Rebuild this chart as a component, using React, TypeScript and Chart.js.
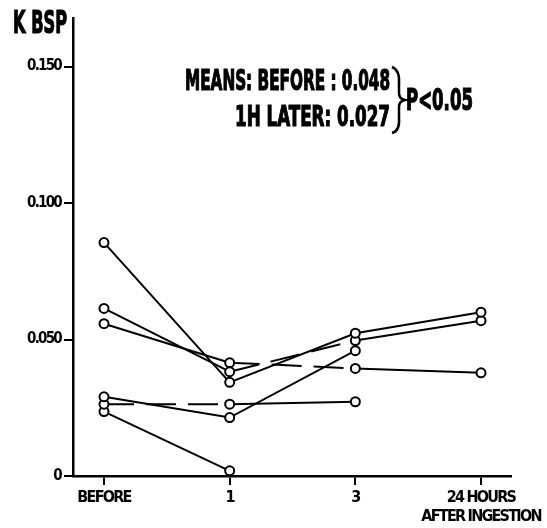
import { useEffect, useRef } from 'react';
import { Chart, registerables } from 'chart.js';

Chart.register(...registerables);

// ---- data ----
const X_POS = [0, 1, 2, 3];
const X_LABELS: string[][] = [['BEFORE'], ['1'], ['3'], ['24 HOURS', 'AFTER INGESTION']];
const Y_TICKS = [0, 0.05, 0.1, 0.15];
const Y_LABELS = ['0', '0.050', '0.100', '0.150'];

const SUBJECT_1 = [0.0855, 0.0343, 0.0523, 0.06];
const SUBJECT_2 = [0.0614, 0.0382, 0.0496, 0.0569];
const SUBJECT_3 = [0.0558, 0.0415, 0.0394, 0.0378];
const SUBJECT_4 = [0.029, 0.0214, 0.0459];
const SUBJECT_5 = [0.0263, 0.0263, 0.0272];
const SUBJECT_6 = [0.0236, 0.0019];

const Y_TITLE = 'K BSP';
const MEAN_LINE_1 = 'MEANS: BEFORE : 0.048';
const MEAN_LINE_2 = '1H LATER: 0.027';
const P_TEXT = 'P<0.05';

const FONT = '"Liberation Sans Narrow", "DejaVu Sans Condensed", "Liberation Sans", sans-serif';

function toPoints(vals: number[]) {
  return vals.map((v, i) => ({ x: X_POS[i], y: v }));
}

function drawFit(ctx: CanvasRenderingContext2D, text: string, left: number, baseline: number, width: number, size: number) {
  ctx.save();
  ctx.font = `bold ${size}px ${FONT}`;
  ctx.textBaseline = 'alphabetic';
  ctx.textAlign = 'left';
  const w = ctx.measureText(text).width;
  ctx.translate(left, baseline);
  ctx.scale(width / w, 1);
  ctx.fillStyle = '#000';
  ctx.strokeStyle = '#000';
  ctx.lineWidth = 1.2;
  ctx.fillText(text, 0, 0);
  ctx.strokeText(text, 0, 0);
  ctx.restore();
}

const annotationPlugin = {
  id: 'annotations',
  beforeDraw(chart: any) {
    (chart.ctx as any).letterSpacing = '-1.75px';
  },
  afterDraw(chart: any) {
    const ctx: CanvasRenderingContext2D = chart.ctx;
    (ctx as any).letterSpacing = '0px';
    drawFit(ctx, Y_TITLE, 13, 33, 54, 32);
    drawFit(ctx, MEAN_LINE_1, 185, 90, 205, 28);
    drawFit(ctx, MEAN_LINE_2, 235, 126, 155, 28);
    drawFit(ctx, P_TEXT, 406, 110, 67, 30);
    // brace
    ctx.save();
    ctx.strokeStyle = '#000';
    ctx.lineWidth = 2.5;
    ctx.beginPath();
    ctx.moveTo(392, 67);
    ctx.quadraticCurveTo(400, 70, 399, 84);
    ctx.lineTo(399, 93);
    ctx.quadraticCurveTo(399, 99, 405, 100);
    ctx.quadraticCurveTo(399, 101, 399, 107);
    ctx.lineTo(399, 118);
    ctx.quadraticCurveTo(400, 131, 392, 133);
    ctx.stroke();
    ctx.restore();
  },
};

function makeDataset(vals: number[], dashedSegments: number[]) {
  return {
    data: toPoints(vals),
    borderColor: '#000',
    borderWidth: 2,
    pointRadius: 4.5,
    pointHoverRadius: 4.5,
    pointBorderWidth: 2,
    pointBorderColor: '#000',
    pointBackgroundColor: '#fff',
    tension: 0,
    clip: false as any,
    segment: {
      borderDash: (c: any) => (dashedSegments.includes(c.p0DataIndex) ? [30, 12] : undefined),
    },
  };
}

export default function App() {
  const ref = useRef<HTMLCanvasElement>(null);
  useEffect(() => {
    if (!ref.current) return;
    const chart = new Chart(ref.current, {
      type: 'line',
      data: {
        datasets: [
          makeDataset(SUBJECT_1, []),
          makeDataset(SUBJECT_2, [1]),
          makeDataset(SUBJECT_3, [1]),
          makeDataset(SUBJECT_4, []),
          makeDataset(SUBJECT_5, [0]),
          makeDataset(SUBJECT_6, []),
        ] as any,
      },
      options: {
        animation: false,
        responsive: false,
        devicePixelRatio: 1,
        layout: { padding: { top: 18, right: 36, left: 0, bottom: 0 } },
        plugins: { legend: { display: false }, tooltip: { enabled: false } },
        scales: {
          x: {
            type: 'linear',
            min: -0.2467,
            max: 3.2387,
            afterBuildTicks: (s: any) => {
              s.ticks = X_POS.map((v) => ({ value: v }));
            },
            afterFit: (s: any) => {
              s.height = 52;
              s.paddingLeft = 0;
              s.paddingRight = 0;
            },
            border: { display: true, color: '#000', width: 2.5 },
            grid: { drawOnChartArea: false, drawTicks: true, tickLength: 9, color: '#000', lineWidth: 2 },
            ticks: {
              autoSkip: false,
              maxRotation: 0,
              padding: 4,
              color: '#000',
              font: { family: FONT, size: 16, weight: 'bold', lineHeight: 1.15 },
              callback: (v: any) => {
                const i = X_POS.indexOf(Number(v));
                return i >= 0 ? X_LABELS[i] : '';
              },
            },
          },
          y: {
            type: 'linear',
            min: 0,
            max: 0.16777,
            afterBuildTicks: (s: any) => {
              s.ticks = Y_TICKS.map((v) => ({ value: v }));
            },
            afterFit: (s: any) => {
              s.width = 73;
              s.paddingTop = 0;
              s.paddingBottom = 0;
            },
            border: { display: true, color: '#000', width: 2.5 },
            grid: { drawOnChartArea: false, drawTicks: true, tickLength: 9, color: '#000', lineWidth: 2 },
            ticks: {
              padding: 3,
              color: '#000',
              font: { family: FONT, size: 15, weight: 'bold' },
              callback: (v: any) => {
                const i = Y_TICKS.findIndex((t) => Math.abs(t - Number(v)) < 1e-9);
                return i >= 0 ? Y_LABELS[i] : '';
              },
            },
          },
        },
      },
      plugins: [annotationPlugin],
    });
    return () => chart.destroy();
  }, []);
  return (
    <div style={{ position: 'fixed', left: 0, top: 0, width: 547, height: 528, background: '#fff' }}>
      <canvas ref={ref} width={547} height={528} style={{ display: 'block' }} />
    </div>
  );
}
